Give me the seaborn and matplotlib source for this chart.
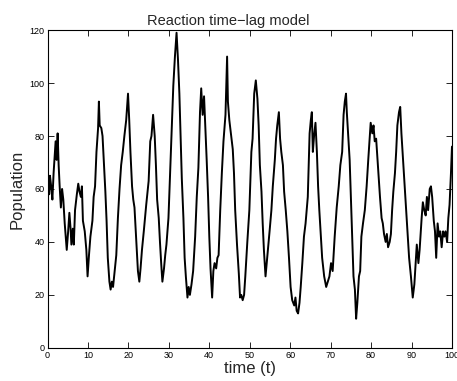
import numpy as np
import pandas as pd
import matplotlib
matplotlib.use("Agg")
import matplotlib.pyplot as plt
import seaborn as sns

# values
time_t = [0.0, 0.2, 0.4, 0.6, 0.9, 1.2, 1.5, 1.7, 2.0, 2.25, 2.5, 2.75, 3.0, 3.3, 3.6, 3.9,
          4.25, 4.75, 5.1, 5.4, 5.7, 5.9, 6.25, 6.5, 6.8, 7.25, 7.6, 7.9, 8.25, 8.5, 8.75,
          9.2, 9.6, 9.9, 10.25, 10.6, 11.1, 11.4, 11.75, 12.1, 12.5, 12.7, 12.9, 13.3, 13.6,
          13.9, 14.3, 14.6, 14.9, 15.3, 15.6, 15.9, 16.2, 16.6, 17.0, 17.4, 17.8, 18.2,
          18.6, 19.0, 19.45, 19.9, 20.2, 20.5, 20.9, 21.2, 21.5, 21.9, 22.35, 22.7, 23.0,
          23.35, 23.8, 24.4, 25.0, 25.4, 25.7, 26.1, 26.5, 26.8, 27.1, 27.5, 27.8, 28.1,
          28.4, 28.8, 29.1, 29.4, 29.9, 30.3, 30.7, 31.1, 31.5, 31.9, 32.25, 32.6, 32.9,
          33.2, 33.6, 33.9, 34.2, 34.6, 34.9, 35.2, 35.6, 36.0, 36.5, 36.9, 37.3, 37.7,
          38.0, 38.35, 38.7, 39.0, 39.35, 39.7, 40.0, 40.3, 40.7, 41.0, 41.3, 41.7, 42.0,
          42.3, 42.7, 43.1, 43.5, 44.0, 44.4, 44.6, 44.95, 45.4, 45.8, 46.1, 46.4, 46.85,
          47.3, 47.6, 47.9, 48.25, 48.6, 48.9, 49.4, 49.9, 50.4, 50.7, 51.1, 51.5, 51.9,
          52.2, 52.5, 52.9, 53.2, 53.5, 53.9, 54.2, 54.5, 54.9, 55.35, 55.7, 56.2, 56.5,
          56.8, 57.2, 57.5, 57.8, 58.2, 58.5, 58.9, 59.3, 59.7, 60.1, 60.5, 61.0, 61.3,
          61.6, 61.95, 62.3, 62.6, 63.0, 63.4, 63.8, 64.35, 64.8, 65.1, 65.35, 65.6, 65.9,
          66.25, 66.6, 66.9, 67.2, 67.6, 67.9, 68.4, 68.9, 69.3, 69.7, 70.1, 70.5, 71.0,
          71.5, 72.0, 72.4, 72.85, 73.2, 73.5, 73.8, 74.0, 74.3, 74.7, 75.0, 75.3, 75.65,
          76.0, 76.3, 76.6, 77.0, 77.3, 77.6, 78.0, 78.45, 78.9, 79.3, 79.7, 79.9, 80.3,
          80.6, 80.9, 81.25, 81.6, 81.9, 82.2, 82.6, 82.9, 83.2, 83.6, 83.9, 84.2, 84.6,
          84.9, 85.2, 85.5, 85.9, 86.2, 86.5, 86.9, 87.2, 87.5, 87.9, 88.2, 88.6, 89.0,
          89.4, 89.85, 90.3, 90.7, 91.1, 91.3, 91.7, 92.0, 92.5, 92.8, 93.15, 93.5, 93.8,
          94.1, 94.5, 94.8, 95.1, 95.5, 95.8, 96.1, 96.45, 96.8, 97.1, 97.45, 97.8, 98.1,
          98.4, 98.8, 99.1, 99.4, 99.75, 100.0]
population = [52, 64, 58, 65, 61, 56, 66, 71, 78, 71, 81, 69, 61, 53, 60, 56,
              47, 37, 44, 51, 45, 39, 45, 39, 52, 58, 62, 59, 57, 61, 48,
              44, 37, 27, 35, 42, 48, 57, 61, 74, 83, 93, 84, 83, 80,
              71, 59, 48, 34, 25, 22, 25, 23, 29, 35, 49, 60, 69,
              74, 80, 86, 96, 86, 74, 61, 56, 53, 42, 29, 25, 30,
              37, 44, 54, 63, 78, 80, 88, 80, 69, 56, 49, 40, 32,
              25, 30, 35, 39, 49, 66, 84, 99, 110, 119, 109, 96, 80,
              64, 49, 34, 27, 19, 23, 20, 24, 29, 42, 57, 68, 89,
              98, 88, 95, 84, 71, 57, 42, 30, 19, 29, 32, 30, 34,
              35, 52, 66, 78, 88, 110, 93, 86, 80, 75, 66, 52, 39,
              28, 19, 20, 18, 20, 27, 40, 52, 74, 79, 96, 101, 94,
              84, 69, 59, 47, 37, 27, 32, 37, 44, 52, 61, 71, 79,
              84, 89, 79, 74, 69, 59, 52, 44, 34, 23, 18, 16, 19,
              14, 13, 17, 23, 32, 42, 47, 57, 81, 86, 89, 74, 80,
              85, 74, 61, 52, 42, 34, 27, 23, 25, 27, 32, 29, 42,
              53, 61, 69, 74, 88, 93, 96, 89, 81, 71, 57, 42, 27,
              22, 11, 17, 27, 29, 42, 47, 52, 61, 71, 80, 85, 81,
              84, 78, 79, 71, 64, 57, 49, 47, 43, 40, 43, 38, 40,
              43, 52, 59, 66, 74, 84, 89, 91, 81, 71, 64, 53, 43,
              34, 27, 19, 24, 34, 39, 32, 37, 49, 55, 52, 50, 57,
              52, 60, 61, 57, 48, 44, 34, 47, 42, 44, 38, 44, 42,
              44, 40, 49, 54, 66, 76]

x_ticks = list(range(0, 101, 10))
y_ticks = list(range(0, 121, 20))

df = pd.DataFrame({"time": time_t, "population": population})

sns.set_style("white")
plt.rcParams["font.family"] = ["Liberation Sans", "DejaVu Sans"]

fig = plt.figure(figsize=(4.57, 3.81), dpi=100)
ax = fig.add_axes([0.104, 0.087, 0.885, 0.834])

sns.lineplot(data=df, x="time", y="population", color="black", linewidth=1.4, ax=ax)

ax.set_xlim(0, 100)
ax.set_ylim(0, 120)
ax.set_xticks(x_ticks)
ax.set_yticks(y_ticks)
ax.tick_params(direction="in", length=4, width=0.6, labelsize=6.5, pad=2,
               top=True, right=True, bottom=True, left=True, colors="black")
for sp in ax.spines.values():
    sp.set_visible(True)
    sp.set_color("black")
    sp.set_linewidth(0.8)

# title sits a little left of the axes centre in the reference
ax.set_title("Reaction time\u2212lag model", fontsize=10.5, pad=4, x=0.446)
ax.set_xlabel("time (t)", fontsize=12, labelpad=1)
ax.set_ylabel("Population", fontsize=12, labelpad=4)

fig.savefig("out.png", dpi=100, facecolor="white")
